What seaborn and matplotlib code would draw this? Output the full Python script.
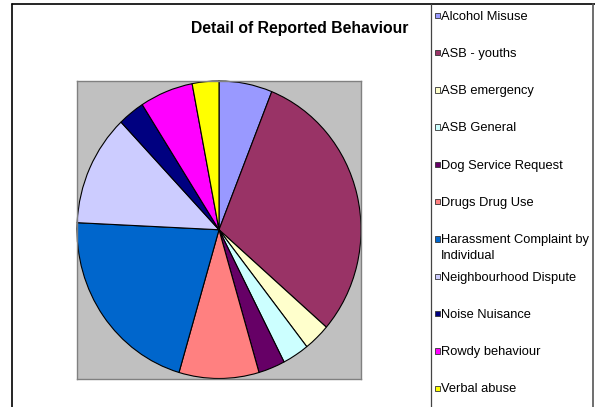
import matplotlib
matplotlib.use("Agg")
import matplotlib.pyplot as plt
import seaborn as sns
from matplotlib.lines import Line2D
from matplotlib.patches import Rectangle

# reported behaviour categories and counts
categories = ["Alcohol Misuse", "ASB - youths", "ASB emergency", "ASB General",
              "Dog Service Request", "Drugs Drug Use", "Harassment Complaint by\nIndividual",
              "Neighbourhood Dispute", "Noise Nuisance", "Rowdy behaviour", "Verbal abuse"]
counts = [2, 10, 1, 1, 1, 3, 7, 4, 1, 2, 1]
slice_colors = ["#9999FF", "#993366", "#FFFFCC", "#CCFFFF", "#660066", "#FF8080",
                "#0066CC", "#CCCCFF", "#000080", "#FF00FF", "#FFFF00"]

sns.set_theme(style="white")
plt.rcParams["font.family"] = ["Liberation Sans", "DejaVu Sans"]

W, H = 595, 407
fig = plt.figure(figsize=(W / 100, H / 100), dpi=100)
fig.patch.set_facecolor("white")

def fx(x):
    return x / W

def fy(y):
    return 1 - y / H

# plot area (grey square like Excel)
ax = fig.add_axes([fx(77), fy(378.5), fx(361) - fx(77), fy(81) - fy(378.5)])
palette = sns.color_palette(slice_colors)
ax.pie(counts, colors=palette, startangle=90, counterclock=False,
       wedgeprops=dict(edgecolor="black", linewidth=0.8))
ax.set_aspect("auto")
ax.set_xlim(-1, 1)
ax.set_ylim(-1, 1)
ax.set_frame_on(True)
ax.set_facecolor("#C0C0C0")
for sp in ax.spines.values():
    sp.set_color("#808080")
    sp.set_linewidth(1.0)

fig.text(fx(300), fy(28.5), "Detail of Reported Behaviour", ha="center", va="center",
         fontsize=11.3, fontweight="bold", color="black")

# chart borders
fig.add_artist(Line2D([fx(11.5), fx(595)], [fy(4), fy(4)], color="black", lw=1.2))
fig.add_artist(Line2D([fx(11.5), fx(11.5)], [fy(4), fy(407)], color="black", lw=1.2))
fig.add_artist(Line2D([fx(592.5), fx(592.5)], [fy(4), fy(407)], color="#555555", lw=1.2))
fig.add_artist(Line2D([fx(430.5), fx(430.5)], [fy(4), fy(407)], color="#444444", lw=0.9))

# legend entries
for i, (lab, col) in enumerate(zip(categories, slice_colors)):
    yc = 15 + 37.3 * i
    fig.add_artist(Rectangle((fx(434.5), fy(yc + 3)), fx(5.5), 5.5 / H,
                             facecolor=col, edgecolor="#333333", lw=0.6))
    fig.text(fx(441), fy(yc - 4.5), lab, ha="left", va="top", fontsize=9.3,
             color="black", linespacing=1.45)

fig.savefig("out.png", dpi=100)
